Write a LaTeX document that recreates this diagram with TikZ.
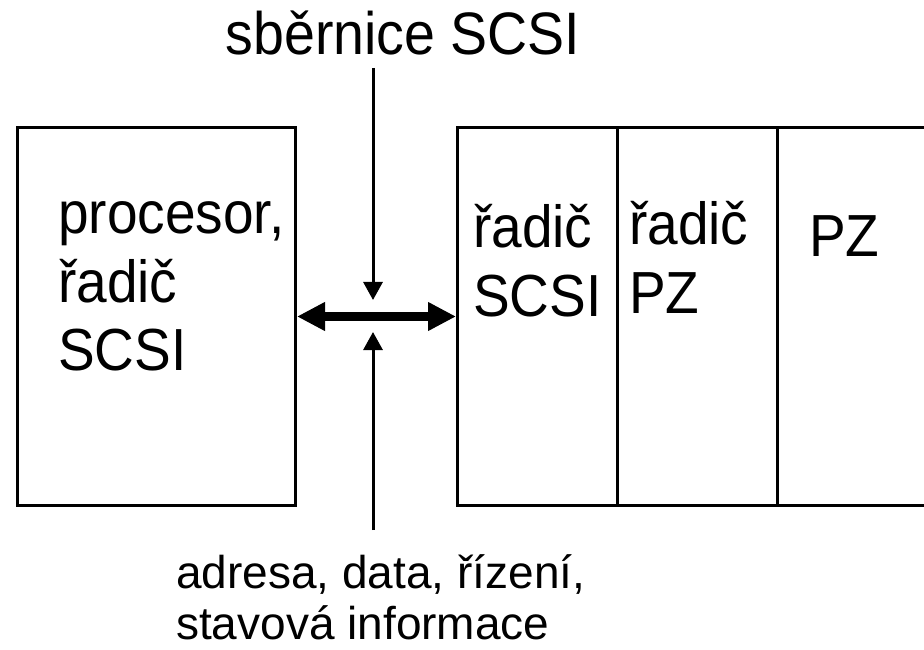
\documentclass[tikz,border=0pt]{standalone}
\usepackage{fontspec}
\setmainfont{Liberation Sans}
\usetikzlibrary{arrows.meta}
\tikzset{
  blk/.style={draw, line width=3pt, rectangle, inner sep=0pt},
  lbl/.style={inner sep=0pt, anchor=base west},
  thin arrow/.style={line width=3pt, -{Triangle[length=18pt,width=19pt]}},
  bus arrow/.style={line width=9pt, {Triangle[length=28pt,width=27pt]}-{Triangle[length=28pt,width=27pt]}}
}
\newcommand{\boxfont}{\fontsize{55}{63.4}\selectfont}
\newcommand{\tall}[1]{\scalebox{1}[1.08]{#1}}
\newcommand{\lines}[1]{\begin{tabular}[t]{@{}l@{}}#1\end{tabular}}
\newcommand{\twolines}[2]{\vtop{\hbox{#1}\hbox{#2}}}
\begin{document}
\begin{tikzpicture}[x=1pt,y=1pt]
\useasboundingbox (0,0) rectangle (924,649);
% boxes
\node[blk, minimum width=278pt, minimum height=378pt] (cpu) at (156.5,332.5) {};
\node[blk, minimum width=159.5pt, minimum height=378pt] (ctl) at (537.25,332.5) {};
\node[blk, minimum width=160pt, minimum height=378pt] (dctl) at (697,332.5) {};
\node[blk, minimum width=168pt, minimum height=378pt] (disk) at (861,332.5) {};
% texts
\node[lbl] (tcpu) at (58,415) {\tall{\boxfont\lines{procesor,\\řadič\\SCSI}}};
\node[lbl] (tctl) at (473,401) {\tall{\boxfont\lines{řadič\\SCSI}}};
\node[lbl] (tdctl) at (629,404) {\tall{\boxfont\lines{řadič\\PZ}}};
\node[lbl] (tdisk) at (809,392) {\tall{\boxfont PZ}};
\node[inner sep=0pt, anchor=base] (tbus) at (403,594) {\tall{\fontsize{55.5}{60}\selectfont sběrnice SCSI}};
\node[lbl] (tsig) at (176,61) {\fontsize{46}{51}\selectfont\twolines{adresa, data, řízení,}{stavová informace}};
% connectors
\coordinate (topstart) at (373,581);
\coordinate (topend) at (373,349);
\coordinate (botstart) at (373,119);
\coordinate (botend) at (373,317);
\draw[bus arrow] (cpu.east) -- (ctl.west);
\draw[thin arrow] (topstart) -- (topend);
\draw[thin arrow] (botstart) -- (botend);
\end{tikzpicture}
\end{document}
